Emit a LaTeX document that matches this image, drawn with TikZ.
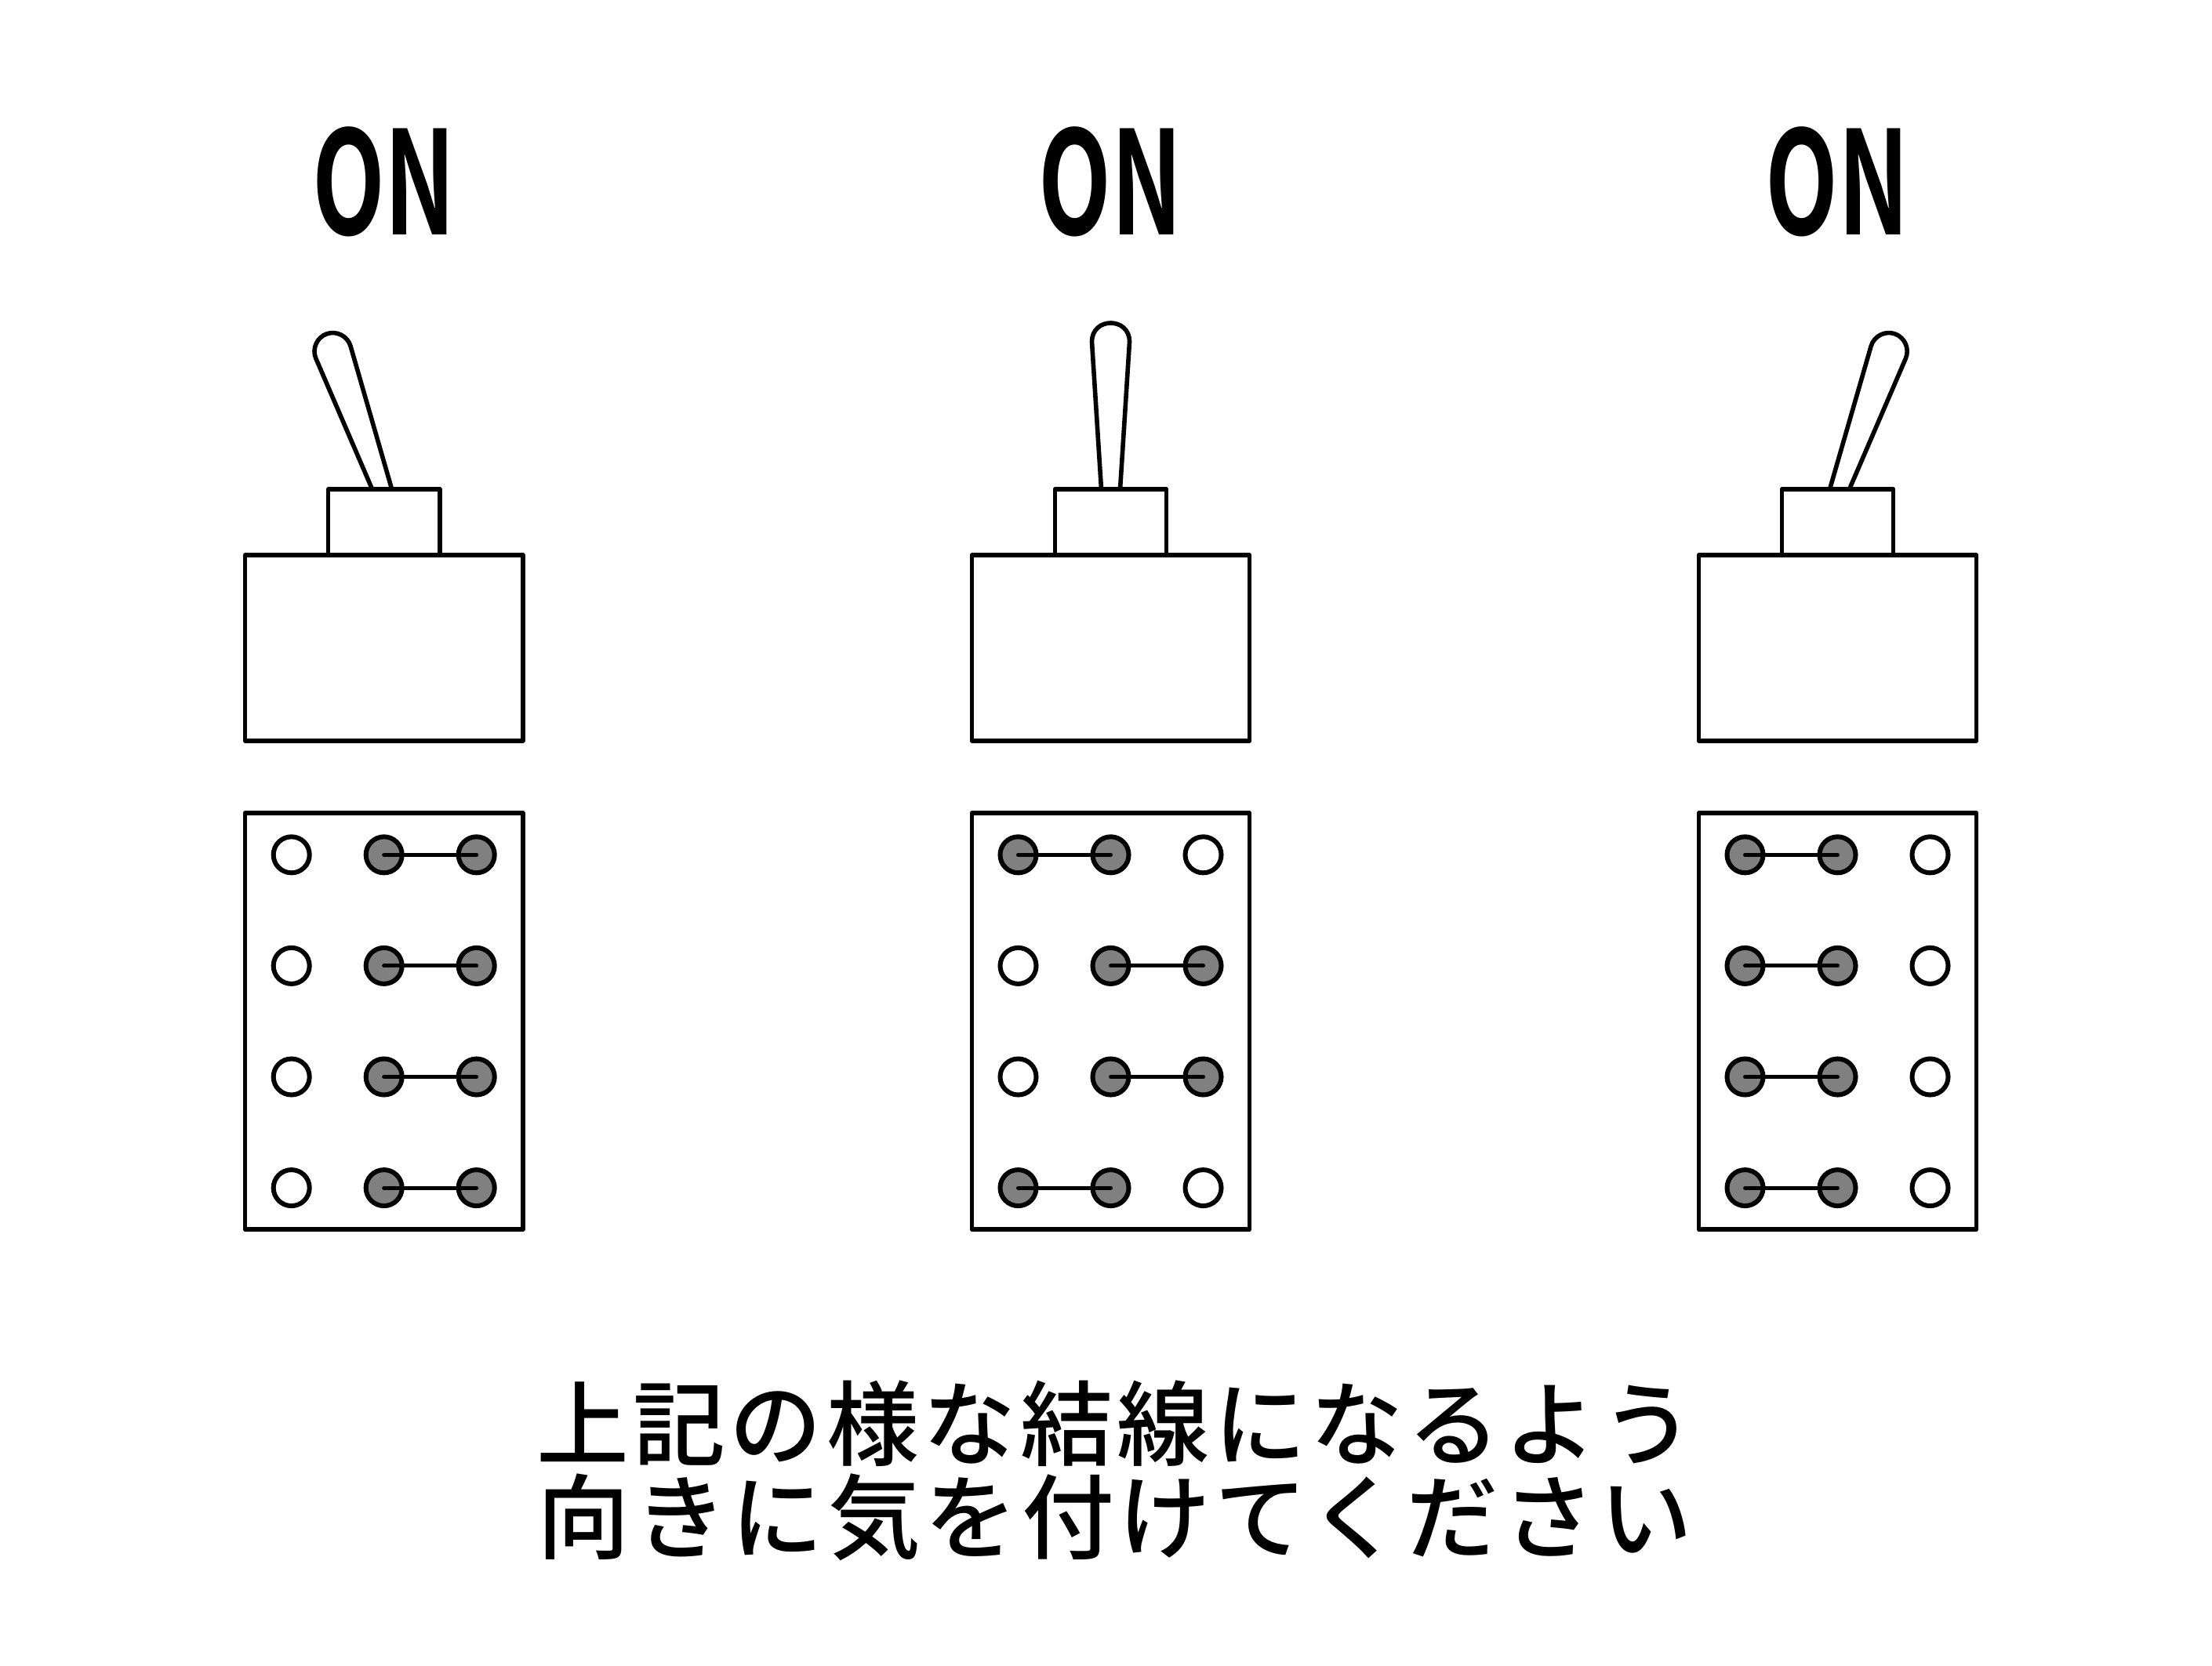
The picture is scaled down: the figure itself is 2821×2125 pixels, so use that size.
\documentclass[tikz,border=0pt]{standalone}
\usepackage{fontspec}
\setmainfont[LetterSpace=4.8]{Noto Sans CJK JP Medium}
\newfontfamily\onfont{Noto Sans CJK JP Bold}
\usetikzlibrary{positioning}
\definecolor{termGray}{gray}{0.5}

\tikzset{
    boxpart/.style={draw=black, line width=0.056cm, fill=white, inner sep=0pt, line join=round},
    terminal/.style={circle, draw=black, line width=0.06cm, inner sep=0pt, minimum size=0.46cm},
    termon/.style={terminal, fill=termGray},
    termoff/.style={terminal, fill=white},
    wirelink/.style={line width=0.05cm, line cap=round, black},
    leverline/.style={draw=black, fill=white, line width=0.056cm},
    onlabel/.style={inner sep=0pt, xscale=0.66, font=\fontsize{52}{52}\onfont},
    notetext/.style={inner sep=0pt, align=center, font=\fontsize{33.5}{33.8}\selectfont}
}

\begin{document}
\begin{tikzpicture}[x=0.01cm, y=-0.01cm]
    \useasboundingbox (0,0) rectangle (2821,2125);

    \foreach \sw/\cx/\tilt/\pat in {a/489.7/1/{2,2,2,2}, b/1416.5/0/{1,2,2,1}, c/2343.5/-1/{1,1,1,1}} {
        % Title
        \node[onlabel] (on\sw) at (\cx,232) {ON};

        % Lever
        \ifnum\tilt=0
            \draw[leverline, shift={(\cx,0)}] (-12,624) -- (-24,436) .. controls (-24,404) and (24,404) .. (24,436) -- (12,624);
        \else
            \draw[leverline, shift={(\cx,0)}, xscale=\tilt] (-15,624) -- (-86.8,457.3)
                .. controls (-92.1,445) and (-85.8,430.5) .. (-73.2,425.9)
                .. controls (-60.6,421.3) and (-46.3,428.7) .. (-42.6,441.6) -- (10,624);
        \fi

        % Body
        \node[boxpart, minimum width=1.42cm, minimum height=0.84cm] (collar\sw) at (\cx,666) {};
        \node[boxpart, minimum width=3.54cm, minimum height=2.365cm] (body\sw) at (\cx,826.5) {};

        % Terminal panel
        \node[boxpart, minimum width=3.54cm, minimum height=5.31cm] (panel\sw) at (\cx,1302.5) {};

        \foreach \first [count=\r] in \pat {
            \pgfmathsetmacro{\ty}{1090.3+141.6*(\r-1)}
            \pgfmathtruncatemacro{\fnext}{\first+1}
            \pgfmathtruncatemacro{\off}{\first==2 ? 1 : 3}
            \node[termoff] (t\sw\r\off) at ({\cx+118*(\off-2)},\ty) {};
            \node[termon] (t\sw\r\first) at ({\cx+118*(\first-2)},\ty) {};
            \node[termon] (t\sw\r\fnext) at ({\cx+118*(\fnext-2)},\ty) {};
            \draw[wirelink] (t\sw\r\first.center) -- (t\sw\r\fnext.center);
        }
    }

    % Note
    \node[notetext] (note) at (1422,1876) {上記の様な結線になるよう\\向きに気を付けてください};
\end{tikzpicture}
\end{document}
